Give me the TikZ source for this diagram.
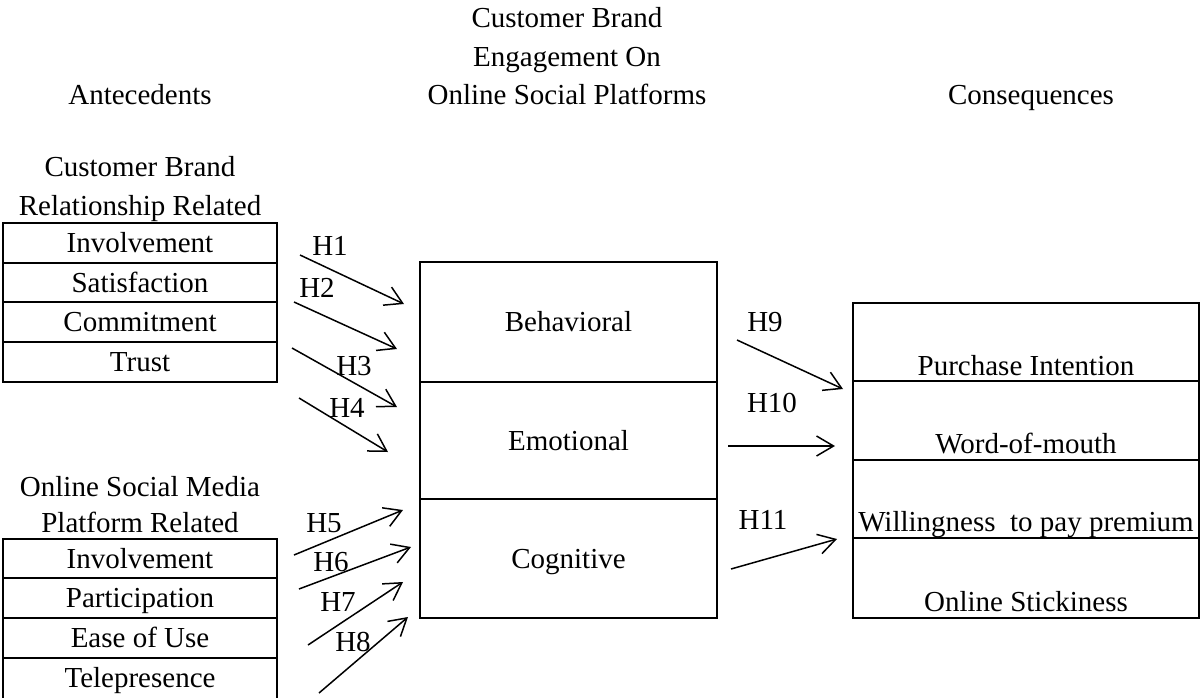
\documentclass[tikz,border=0pt]{standalone}
\usepackage{fontspec}
\setmainfont{Liberation Serif}
\usetikzlibrary{arrows.meta}
\begin{document}
\begin{tikzpicture}[x=1pt,y=-1pt,
  txt/.style={font=\fontsize{29}{38}\selectfont, inner sep=0pt, text height=25pt, text depth=6pt},
  cell/.style={draw, line width=2pt, inner sep=0pt, outer sep=0pt, font=\fontsize{29}{38}\selectfont, text height=25pt, text depth=6pt, anchor=north west},
  arr/.style={line width=1.5pt, -{Straight Barb[length=17pt,width=20pt,line width=1.5pt]}},
  hlab/.style={txt}]
\useasboundingbox (0,0) rectangle (1200,697);
% headers
\node[txt] (hcbe1) at (567,18) {Customer Brand};
\node[txt] (hcbe2) at (567,57) {Engagement On};
\node[txt] (hcbe3) at (567,95) {Online Social Platforms};
\node[txt] (hant) at (140,95) {Antecedents};
\node[txt] (hcon) at (1031,95) {Consequences};
\node[txt] (hrel1) at (140,167) {Customer Brand};
\node[txt] (hrel2) at (140,206) {Relationship Related};
\node[txt] (hplat1) at (140,487) {Online Social Media};
\node[txt] (hplat2) at (140,523) {Platform Related};
% left top table
\tikzset{lcell/.style={cell, minimum width=274pt}}
\node[lcell, minimum height=40pt] (a1) at (3,223) {Involvement};
\node[lcell, minimum height=39pt] (a2) at (3,263) {Satisfaction};
\node[lcell, minimum height=40pt] (a3) at (3,302) {Commitment};
\node[lcell, minimum height=40pt] (a4) at (3,342) {Trust};
% left bottom table
\node[lcell, minimum height=39pt] (b1) at (3,539) {Involvement};
\node[lcell, minimum height=40pt] (b2) at (3,578) {Participation};
\node[lcell, minimum height=40pt] (b3) at (3,618) {Ease of Use};
\node[lcell, minimum height=43pt, text depth=9pt] (b4) at (3,658) {Telepresence};
% middle table
\tikzset{mcell/.style={cell, minimum width=297pt}}
\node[mcell, minimum height=120pt] (m1) at (420,262) {Behavioral};
\node[mcell, minimum height=117pt] (m2) at (420,382) {Emotional};
\node[mcell, minimum height=119pt] (m3) at (420,499) {Cognitive};
% right table
\tikzset{rcell/.style={cell, minimum width=346pt}}
\node[rcell, minimum height=78pt] (r1) at (853,303) {};
\node[rcell, minimum height=79pt] (r2) at (853,381) {};
\node[rcell, minimum height=78pt] (r3) at (853,460) {};
\node[rcell, minimum height=80pt] (r4) at (853,538) {};
\node[txt, anchor=base] (t1) at ([yshift=6pt]r1.south) {Purchase Intention};
\node[txt, anchor=base] (t2) at ([yshift=7pt]r2.south) {Word-of-mouth};
\node[txt, anchor=base] (t3) at ([yshift=7pt]r3.south) {Willingness\ \ to pay premium};
\node[txt, anchor=base] (t4) at ([yshift=7pt]r4.south) {Online Stickiness};
% arrow end points
\coordinate (s1) at (300,255); \coordinate (e1) at (404,304);
\coordinate (s2) at (294,302); \coordinate (e2) at (397,349);
\coordinate (s3) at (292,348); \coordinate (e3) at (397,407);
\coordinate (s4) at (299,398); \coordinate (e4) at (388,452);
\coordinate (s5) at (294,555); \coordinate (e5) at (403,510);
\coordinate (s6) at (299,589); \coordinate (e6) at (411,547);
\coordinate (s7) at (308,645); \coordinate (e7) at (403,582);
\coordinate (s8) at (319,693); \coordinate (e8) at (408,617);
\coordinate (s9) at (737,340); \coordinate (e9) at (843,389);
\coordinate (s10) at (728,446); \coordinate (e10) at (835,446);
\coordinate (s11) at (731,569); \coordinate (e11) at (837,539);
\foreach \i in {1,...,11}{\draw[arr] (s\i) -- (e\i);}
% hypothesis labels
\node[hlab] (h1) at (330,246) {H1};
\node[hlab] (h2) at (317,288) {H2};
\node[hlab] (h3) at (354,366) {H3};
\node[hlab] (h4) at (347,408) {H4};
\node[hlab] (h5) at (324,523) {H5};
\node[hlab] (h6) at (331,562) {H6};
\node[hlab] (h7) at (338,602) {H7};
\node[hlab] (h8) at (353,642) {H8};
\node[hlab] (h9) at (765,322) {H9};
\node[hlab] (h10) at (772,403) {H10};
\node[hlab] (h11) at (763,520) {H11};
\end{tikzpicture}
\end{document}
